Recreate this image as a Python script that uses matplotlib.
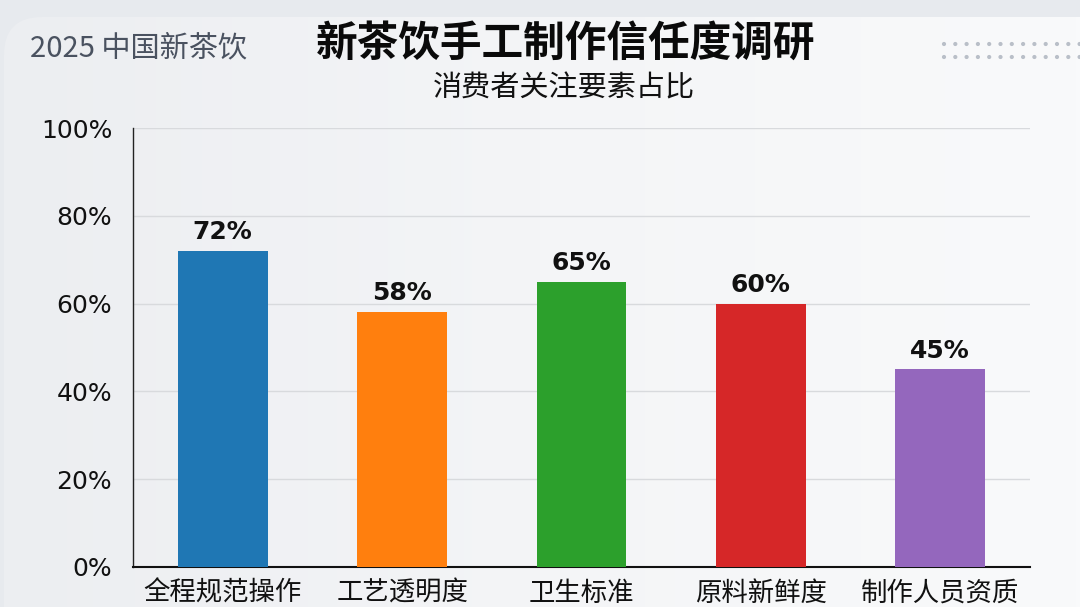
import matplotlib
matplotlib.use("Agg")
import matplotlib.pyplot as plt
import numpy as np
from matplotlib.patches import FancyBboxPatch
from matplotlib.colors import LinearSegmentedColormap

plt.rcParams['font.family'] = ['Noto Sans CJK SC', 'DejaVu Sans']

categories = ["全程规范操作", "工艺透明度", "卫生标准", "原料新鲜度", "制作人员资质"]
values = [72, 58, 65, 60, 45]
bar_colors = ["#1f77b4", "#ff7f0e", "#2ca02c", "#d62728", "#9467bd"]
yticks = [0, 20, 40, 60, 80, 100]
ytick_labels = ["0%", "20%", "40%", "60%", "80%", "100%"]

title = "新茶饮手工制作信任度调研"
subtitle = "消费者关注要素占比"
corner_label = "2025 中国新茶饮"

W, H = 1080, 607
fig = plt.figure(figsize=(W / 100, H / 100), dpi=100)
fig.patch.set_facecolor("#e7eaee")

# background panel with gradient
bg = fig.add_axes([0, 0, 1, 1], zorder=0)
bg.set_xlim(0, W)
bg.set_ylim(H, 0)
bg.axis("off")
cmap = LinearSegmentedColormap.from_list("bgpanel", ["#eceef1", "#f4f5f7", "#f9fafb"])
grad = np.tile(np.linspace(0, 1, 256), (16, 1))
im = bg.imshow(grad, extent=[0, W, H, 0], cmap=cmap, aspect="auto", zorder=0)
panel = FancyBboxPatch((4, 17), W + 60, H + 60,
                       boxstyle="round,pad=0,rounding_size=38",
                       facecolor="none", edgecolor="none", transform=bg.transData)
bg.add_patch(panel)
im.set_clip_path(panel)

# dot grid at top right
for row_y in [44, 57]:
    for i in range(13):
        bg.scatter(944 + i * 11.3, row_y, s=9, color="#b9bfc8", edgecolors="none", zorder=2)

# main axes
ax = fig.add_axes([133 / W, 1 - 567 / H, (1030 - 133) / W, (567 - 128) / H], zorder=1)
ax.patch.set_alpha(0)
x = np.arange(len(categories))
bars = ax.bar(x, values, width=0.5, color=bar_colors, zorder=3)
ax.set_xlim(-0.5, 4.5)
ax.set_ylim(0, 100)
ax.set_yticks(yticks)
ax.set_yticklabels(ytick_labels, fontsize=18, family=["DejaVu Sans"])
ax.set_xticks(x)
ax.set_xticklabels(categories, fontsize=19, fontweight="medium")
ax.tick_params(axis="both", length=0, colors="#111111")
ax.tick_params(axis="y", pad=15)
ax.tick_params(axis="x", pad=9)
ax.grid(axis="y", color="#d8dadd", linewidth=1, zorder=0)
for s in ["top", "right"]:
    ax.spines[s].set_visible(False)
ax.spines["left"].set_color("#222222")
ax.spines["bottom"].set_color("#111111")
ax.spines["bottom"].set_linewidth(1.5)
ax.spines["left"].set_linewidth(1.0)

for xi, v in zip(x, values):
    ax.annotate(f"{v}%", (xi, v), xytext=(0, 5), textcoords="offset points",
                ha="center", va="bottom", fontsize=18, fontweight="bold",
                family=["DejaVu Sans"], color="#111111")

fig.text(566 / W, 1 - 44 / H, title, ha="center", va="center", fontsize=30,
         fontweight="heavy", color="#0a0a0a")
fig.text(564 / W, 1 - 88 / H, subtitle, ha="center", va="center", fontsize=21,
         color="#111111")
fig.text(30 / W, 1 - 48 / H, corner_label, ha="left", va="center", fontsize=21,
         fontweight="medium", color="#4a5260")

fig.savefig("out.png", dpi=100, facecolor=fig.get_facecolor())
